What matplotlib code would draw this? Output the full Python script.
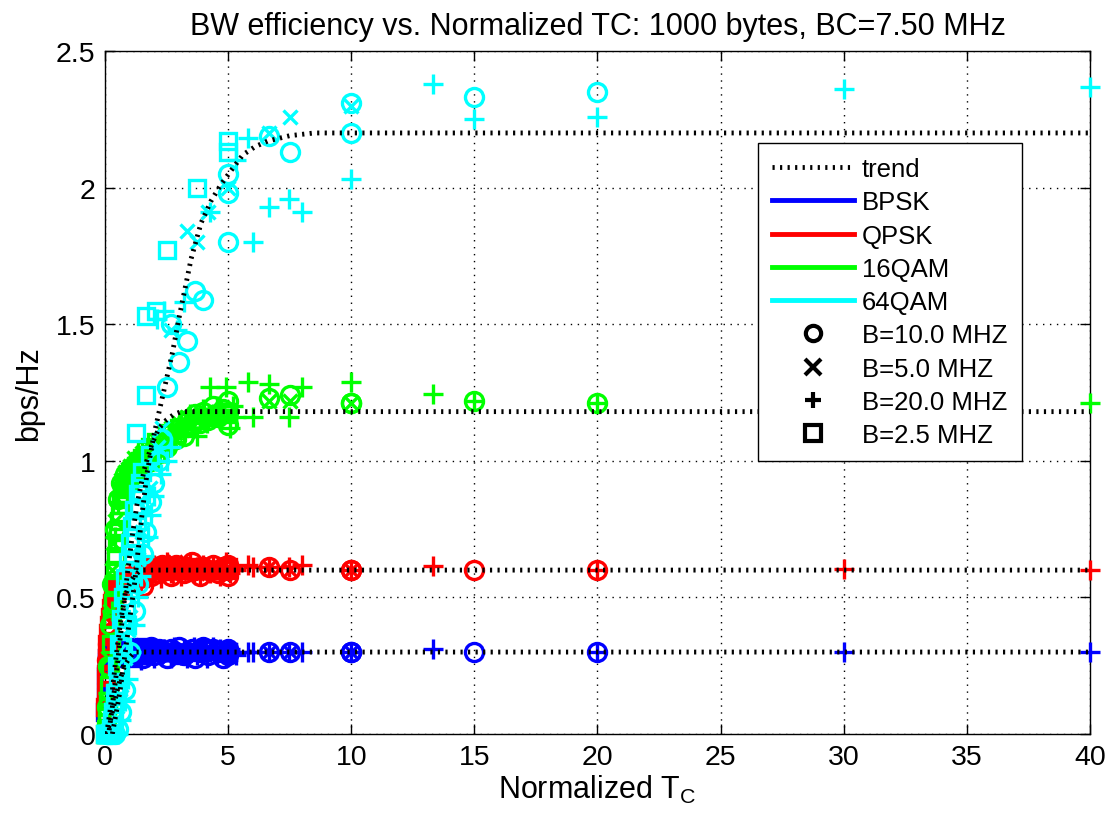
# -*- coding: utf-8 -*-
"""BW efficiency vs. normalized coherence time, MATLAB-looking scatter."""

import numpy as np
import matplotlib
matplotlib.use('Agg')
import matplotlib.pyplot as plt
from matplotlib.lines import Line2D

plt.rcParams['font.family'] = ['Liberation Sans', 'DejaVu Sans']
plt.rcParams['mathtext.fontset'] = 'custom'
plt.rcParams['mathtext.rm'] = 'Liberation Sans'
plt.rcParams['mathtext.it'] = 'Liberation Sans'

nan = np.nan

# %% Data

mods = ['BPSK', 'QPSK', '16QAM', '64QAM']
mod_colors = ['#0000ff', '#ff0000', '#00ff00', '#00ffff']

bw_labels = ['B=10.0 MHZ', 'B=5.0 MHZ', 'B=20.0 MHZ', 'B=2.5 MHZ']
bw_markers = ['o', 'x', '+', 's']

# normalized TC for each bandwidth
x_10 = [0.07, 0.13, 0.2, 0.27, 0.4, 0.53, 0.67, 0.8, 1.0, 1.2,
        1.33, 1.53, 1.67, 1.87, 2.0, 2.2, 2.33, 2.53, 2.67, 2.87,
        3.0, 3.2, 3.33, 3.53, 3.67, 3.87, 4.0, 4.2, 4.4, 4.6,
        4.8, 5.0, 5.0, 5.0, 6.67, 7.5, 10.0, 10.0, 15.0, 20.0]
x_5 = [0.03, 0.07, 0.13, 0.2, 0.27, 0.33, 0.4, 0.5, 0.6, 0.67,
       0.8, 0.93, 1.0, 1.17, 1.33, 1.5, 1.67, 1.83, 2.0, 2.17,
       2.33, 2.5, 2.67, 2.83, 3.0, 3.17, 3.33, 3.5, 3.75, 4.17,
       4.5, 5.0, 6.67, 7.5, 10.0]
x_20 = [0.13, 0.27, 0.40, 0.53, 0.67, 0.80, 0.93, 1.07, 1.20, 1.33,
        1.47, 1.60, 1.73, 1.87, 2.00, 2.13, 2.27, 2.40, 2.53, 2.67,
        2.80, 2.93, 3.07, 3.20, 3.33, 3.47, 3.60, 3.73, 3.87, 4.00,
        4.13, 4.27, 4.40, 4.53, 4.67, 4.80, 4.93, 5.07, 5.20, 5.33,
        5.80, 6.00, 6.67, 7.47, 8.00, 10.0, 13.33, 15.0, 20.0, 30.0, 40.0]
x_2p5 = [0.02, 0.03, 0.05, 0.07, 0.1, 0.13, 0.17, 0.2, 0.25, 0.3,
         0.33, 0.42, 0.5, 0.58, 0.67, 0.75, 0.83, 0.92, 1.0, 1.08,
         1.17, 1.25, 1.33, 1.42, 1.5, 1.67, 1.67, 1.83, 2.08, 2.5,
         3.0, 3.75, 4.17, 5.0, 5.0,
         0.37, 0.46, 0.54, 0.62, 0.71, 0.79, 0.87, 0.96, 1.04, 1.12,
         1.21, 1.29, 1.37, 1.46]

# bps/Hz, B = 10 MHz
bpsk_10 = [0.24, 0.29, 0.30, 0.31, 0.30, 0.29, 0.30, 0.31, 0.30, 0.29,
           0.31, 0.28, 0.30, 0.32, 0.29, 0.31, 0.30, 0.28, 0.31, 0.30,
           0.32, 0.29, 0.30, 0.31, 0.28, 0.30, 0.32, 0.29, 0.31, 0.30,
           0.28, 0.30, 0.31, 0.29, 0.30, 0.30, 0.30, 0.30, 0.30, 0.30]
qpsk_10 = [0.27, 0.33, 0.40, 0.45, 0.50, 0.53, 0.55, 0.56, 0.57, 0.56,
           0.58, 0.54, 0.60, 0.58, 0.61, 0.59, 0.62, 0.60, 0.58, 0.62,
           0.60, 0.59, 0.61, 0.63, 0.60, 0.58, 0.61, 0.60, 0.62, 0.59,
           0.61, 0.60, 0.62, 0.58, 0.61, 0.60, 0.60, 0.60, 0.60, 0.60]
qam16_10 = [0.10, 0.25, 0.40, 0.55, 0.75, 0.86, 0.92, 0.95, 0.97, 0.99,
            1.00, 0.98, 1.02, 1.00, 1.04, 1.03, 1.06, 1.05, 1.10, 1.08,
            1.12, 1.09, 1.15, 1.13, 1.17, 1.14, 1.18, 1.15, 1.20, 1.16,
            1.19, 1.13, 1.18, 1.22, 1.23, 1.24, 1.21, 1.21, 1.22, 1.21]
qam64_10 = [0.00, 0.00, 0.00, 0.00, 0.00, 0.02, 0.08, 0.16, 0.30, 0.45,
            0.55, 0.66, 0.74, 0.85, 0.92, 1.00, 1.08, 1.27, 1.50, nan,
            1.36, nan, 1.44, nan, 1.62, nan, 1.59, nan, nan, nan,
            nan, 1.80, 1.98, 2.05, 2.19, 2.13, 2.20, 2.31, 2.33, 2.35]

# B = 5 MHz
bpsk_5 = [0.18, 0.26, 0.29, 0.30, 0.31, 0.30, 0.29, 0.31, 0.30, 0.28,
          0.31, 0.30, 0.29, 0.32, 0.30, 0.28, 0.31, 0.30, 0.29, 0.32,
          0.30, 0.28, 0.31, 0.30, 0.29, 0.31, 0.30, 0.32, 0.29, 0.30,
          0.31, 0.30, 0.30, 0.30, 0.30]
qpsk_5 = [0.22, 0.30, 0.36, 0.41, 0.45, 0.48, 0.50, 0.52, 0.54, 0.55,
          0.56, 0.57, 0.57, 0.56, 0.58, 0.60, 0.57, 0.61, 0.59, 0.62,
          0.60, 0.58, 0.61, 0.63, 0.59, 0.61, 0.60, 0.62, 0.59, 0.61,
          0.60, 0.61, 0.61, 0.60, 0.60]
qam16_5 = [0.03, 0.12, 0.28, 0.45, 0.60, 0.70, 0.78, 0.86, 0.91, 0.93,
           0.96, 0.97, 0.98, 1.01, 1.00, 1.03, 1.02, 1.05, 1.04, 1.07,
           1.06, 1.09, 1.12, 1.10, 1.14, 1.12, 1.16, 1.13, 1.15, 1.18,
           1.16, 1.17, 1.22, 1.22, 1.21]
qam64_5 = [0.00, 0.00, 0.00, 0.00, 0.00, 0.00, 0.02, 0.06, 0.12, 0.18,
           0.28, 0.38, 0.43, 0.54, 0.64, 0.74, 0.82, 0.90, 0.98, 1.05,
           1.12, nan, 1.48, nan, nan, nan, 1.84, nan, 1.80, 1.91,
           nan, 2.00, 2.20, 2.26, 2.30]

# B = 20 MHz
bpsk_20 = [0.28, 0.30, 0.31, 0.29, 0.30, 0.32, 0.28, 0.30, 0.31, 0.29,
           0.27, 0.31, 0.30, 0.32, 0.28, 0.30, 0.29, 0.31, 0.30, 0.28,
           0.32, 0.30, 0.29, 0.31, 0.28, 0.30, 0.32, 0.29, 0.30, 0.31,
           0.28, 0.30, 0.32, 0.29, 0.31, 0.30, 0.28, 0.31, 0.30, 0.29,
           0.30, 0.30, 0.30, 0.30, 0.30, 0.30, 0.31, nan, 0.30, 0.30, 0.30]
qpsk_20 = [0.33, 0.45, 0.50, 0.54, 0.55, 0.56, 0.57, 0.57, 0.58, 0.57,
           0.55, 0.59, 0.61, 0.58, 0.62, 0.60, 0.57, 0.61, 0.63, 0.59,
           0.60, 0.62, 0.58, 0.61, 0.60, 0.63, 0.59, 0.61, 0.58, 0.62,
           0.60, 0.59, 0.62, 0.60, 0.58, 0.61, 0.63, 0.59, 0.61, 0.60,
           0.62, 0.61, 0.61, 0.61, 0.62, 0.60, 0.615, nan, 0.60, 0.605, 0.60]
qam16_20 = [0.15, 0.45, 0.72, 0.85, 0.92, 0.95, 0.97, 0.98, 1.00, 0.98,
            1.01, 1.00, 1.03, 1.02, 1.04, 1.00, 1.05, 1.03, 1.08, 1.10,
            1.07, 1.12, 1.15, 1.10, 1.14, 1.17, 1.12, 1.09, 1.16, 1.19,
            1.14, 1.27, 1.17, 1.20, 1.15, 1.18, 1.27, 1.12, 1.20, 1.16,
            1.29, 1.16, 1.28, 1.16, 1.27, 1.29, 1.245, 1.22, 1.21, 1.20, 1.21]
qam64_20 = [0.00, 0.00, 0.00, 0.00, 0.05, 0.12, 0.20, 0.30, 0.40, 0.50,
            0.58, 0.65, 0.72, 0.80, 0.87, 1.52, 0.95, 1.55, 1.00, 1.05,
            nan, 1.48, nan, 1.58, nan, nan, nan, nan, nan, nan,
            nan, 1.91, nan, nan, nan, nan, nan, nan, nan, 2.10,
            2.18, 1.80, 1.93, 1.96, 1.91, 2.03, 2.38, 2.25, 2.26, 2.36, 2.37]

# B = 2.5 MHz
bpsk_2p5 = [0.08, 0.13, 0.20, 0.25, 0.28, 0.29, 0.30, 0.31, 0.30, 0.29,
            0.30, 0.31, 0.30, 0.28, 0.31, 0.30, 0.29, 0.32, 0.30, 0.28,
            0.31, 0.30, 0.29, 0.31, 0.30, 0.32, 0.29, 0.30, 0.31, 0.30,
            0.29, 0.30, 0.31, 0.30, 0.30,
            0.30, 0.31, 0.29, 0.30, 0.31, 0.30, 0.29, 0.30, 0.31, 0.30,
            0.29, 0.30, 0.31, 0.30]
qpsk_2p5 = [0.10, 0.15, 0.22, 0.28, 0.33, 0.37, 0.40, 0.43, 0.46, 0.48,
            0.50, 0.52, 0.53, 0.54, 0.55, 0.56, 0.56, 0.57, 0.57, 0.58,
            0.57, 0.58, 0.59, 0.57, 0.60, 0.59, 0.61, 0.60, 0.60, 0.61,
            0.60, 0.61, 0.60, 0.60, 0.61,
            0.51, 0.52, 0.53, 0.54, 0.55, 0.56, 0.56, 0.57, 0.57, 0.58,
            0.57, 0.58, 0.59, 0.58]
qam16_2p5 = [0.00, 0.00, 0.02, 0.04, 0.08, 0.12, 0.18, 0.24, 0.33, 0.42,
             0.48, 0.60, 0.70, 0.78, 0.84, 0.88, 0.91, 0.93, 0.95, 0.96,
             0.97, 0.98, 0.99, 1.00, 1.01, 1.02, 1.04, 1.05, 1.07, 1.10,
             1.12, 1.15, 1.16, 1.17, 1.18,
             0.55, 0.65, 0.74, 0.81, 0.86, 0.90, 0.92, 0.94, 0.96, 0.97,
             0.97, 0.98, 0.99, 1.00]
qam64_2p5 = [0.00, 0.00, 0.00, 0.00, 0.00, 0.00, 0.00, 0.00, 0.02, 0.05,
             0.08, 0.15, 0.25, 0.33, 0.42, 0.50, 0.57, 0.63, 0.70, 0.76,
             0.82, 1.10, 0.88, 0.92, 0.96, 1.24, 1.53, 1.02, 1.55, 1.77,
             nan, 2.00, nan, 2.13, 2.17,
             0.06, 0.12, 0.18, 0.25, 0.32, 0.40, 0.47, 0.53, 0.60, 0.66,
             0.72, 0.78, 0.83, 0.88]

# trend curves
trend_x_bpsk = [0, 0.1, 0.2, 0.35, 0.5, 0.65, 0.8, 1.0, 1.2, 40]
trend_y_bpsk = [0, 0.01, 0.04, 0.10, 0.16, 0.21, 0.25, 0.28, 0.30, 0.30]
trend_x_qpsk = [0, 0.1, 0.2, 0.35, 0.5, 0.65, 0.8, 1.0, 1.2, 1.45, 40]
trend_y_qpsk = [0, 0.02, 0.08, 0.20, 0.32, 0.42, 0.50, 0.55, 0.58, 0.60, 0.60]
trend_x_16 = [0, 0.15, 0.3, 0.5, 0.7, 0.9, 1.1, 1.3, 1.6, 1.9, 2.2, 2.5, 2.8, 3.1, 40]
trend_y_16 = [0, 0.0, 0.10, 0.25, 0.42, 0.58, 0.72, 0.84, 0.97, 1.06, 1.12, 1.15, 1.17, 1.18, 1.18]
trend_x_64 = [0, 0.3, 0.6, 0.9, 1.2, 1.5, 1.7, 2.0, 2.25, 2.5, 2.75, 3.0, 3.25, 3.5, 3.9,
              4.3, 4.7, 5.1, 5.6, 6.1, 6.6, 7.5, 8.5, 10, 40]
trend_y_64 = [0, 0.0, 0.15, 0.35, 0.55, 0.80, 0.95, 1.10, 1.20, 1.30, 1.40, 1.52, 1.63, 1.74, 1.87,
              1.95, 2.01, 2.06, 2.12, 2.15, 2.17, 2.19, 2.20, 2.20, 2.20]

x_by_bw = [x_10, x_5, x_20, x_2p5]
y_by_mod = [[bpsk_10, bpsk_5, bpsk_20, bpsk_2p5],
            [qpsk_10, qpsk_5, qpsk_20, qpsk_2p5],
            [qam16_10, qam16_5, qam16_20, qam16_2p5],
            [qam64_10, qam64_5, qam64_20, qam64_2p5]]
trends = [(trend_x_bpsk, trend_y_bpsk), (trend_x_qpsk, trend_y_qpsk),
          (trend_x_16, trend_y_16), (trend_x_64, trend_y_64)]

# %% Plot

marker_size = {'o': 13, 'x': 10, '+': 15, 's': 12}
trend_dash = (0.45, 1.1)

fig = plt.figure(figsize=(11.12, 8.28), dpi=100)
ax = fig.add_axes([0.0944, 0.1123, 0.8858, 0.8249])

ax.grid(True, color='k', linestyle=(0, (1, 4)), linewidth=1.0)
ax.set_axisbelow(True)

# one modulation at a time, all bandwidths
for mod_i, ys_all in enumerate(y_by_mod):
    for bw_i, xs in enumerate(x_by_bw):
        mk = bw_markers[bw_i]
        ax.plot(xs, ys_all[bw_i], linestyle='None', marker=mk,
                color=mod_colors[mod_i], markersize=marker_size[mk],
                markeredgewidth=2.4, markerfacecolor='none',
                clip_on=False, zorder=3)

for tx, ty in trends:
    ax.plot(tx, ty, color='k', linewidth=3.5, dashes=trend_dash,
            dash_capstyle='butt', zorder=4)

ax.set_xlim(0, 40)
ax.set_ylim(0, 2.5)
ax.set_xticks(np.arange(0, 41, 5))
ax.set_yticks([0, 0.5, 1, 1.5, 2, 2.5])
ax.set_yticklabels(['0', '0.5', '1', '1.5', '2', '2.5'])
ax.tick_params(direction='in', length=7, width=1, labelsize=20.5, pad=7,
               top=True, right=True)
for sp in ax.spines.values():
    sp.set_linewidth(1.0)

ax.set_title('BW efficiency vs. Normalized TC: 1000 bytes, BC=7.50 MHz',
             fontsize=22, pad=12)
ax.set_xlabel(r'Normalized T$_{\mathregular{C}}$', fontsize=22, labelpad=2)
ax.set_ylabel('bps/Hz', fontsize=22, labelpad=8)

handles = [Line2D([], [], color='k', linewidth=3.5, dashes=trend_dash,
                  dash_capstyle='butt')]
for c in mod_colors:
    handles.append(Line2D([], [], color=c, linewidth=3.5))
for mk in bw_markers:
    handles.append(Line2D([], [], color='k', linestyle='None', marker=mk,
                          markersize=11, markeredgewidth=3, markerfacecolor='none'))
labels = ['trend'] + mods + bw_labels

leg = fig.legend(handles, labels, loc='upper left',
                 bbox_to_anchor=(758 / 1112, 1 - 144 / 828),
                 fontsize=18.5, frameon=True, fancybox=False, framealpha=1,
                 edgecolor='k', handlelength=3.2, handletextpad=0.3,
                 labelspacing=0.36, borderpad=0.55, borderaxespad=0)
leg.get_frame().set_linewidth(1.0)

fig.savefig('out.png', dpi=100)
